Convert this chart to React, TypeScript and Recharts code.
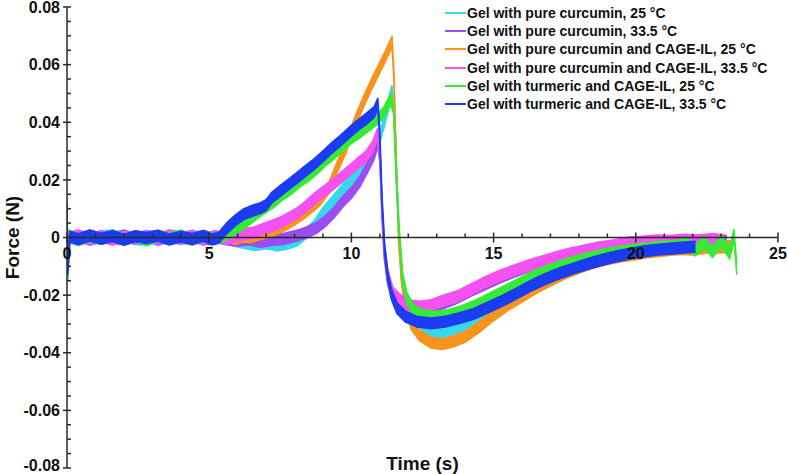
import React from 'react';
import { ComposedChart, Area, XAxis, YAxis, ReferenceLine, ReferenceDot, Legend } from 'recharts';

type Pt = [number, number];

const seriesNames = [
  'Gel with pure curcumin, 25 °C',
  'Gel with pure curcumin, 33.5 °C',
  'Gel with pure curcumin and CAGE-IL, 25 °C',
  'Gel with pure curcumin and CAGE-IL, 33.5 °C',
  'Gel with turmeric and CAGE-IL, 25 °C',
  'Gel with turmeric and CAGE-IL, 33.5 °C',
];
const seriesColors = ['#36D9EC', '#9B4CF2', '#F7941D', '#F352F0', '#35EB35', '#1C3CF2'];

const curcumin25: Pt[] = [
  [0, 0.0006], [0.3, -0.0007], [0.7, 0.0004], [1.0, -0.0003], [1.4, 0.0007], [1.8, -0.0006], [2.2, 0.0002],
  [2.6, -0.0008], [3.0, 0.0005], [3.4, -0.0002], [3.8, 0.0006], [4.2, -0.0005], [4.6, 0.0003], [5.0, -0.0006],
  [5.4, 0.0002], [5.8, -0.001], [6.2, -0.0018], [6.6, -0.0026], [7.0, -0.002], [7.4, -0.0028], [7.8, -0.002],
  [8.1, -0.001], [8.4, 0.0015], [8.7, 0.004], [9.0, 0.0085], [9.3, 0.012], [9.6, 0.0155], [9.9, 0.019],
  [10.2, 0.022], [10.5, 0.026], [10.8, 0.031], [11.0, 0.035], [11.15, 0.04], [11.3, 0.046], [11.42, 0.051],
  [11.5, 0.046], [11.6, 0.02], [11.7, -0.005], [11.8, -0.016], [11.95, -0.024], [12.2, -0.029], [12.5, -0.032],
  [12.9, -0.033], [13.3, -0.033], [13.8, -0.031], [14.3, -0.029], [14.8, -0.026], [15.3, -0.023], [15.8, -0.02],
  [16.3, -0.017], [16.8, -0.0145], [17.3, -0.012], [17.8, -0.0105], [18.3, -0.0085], [18.8, -0.007], [19.3, -0.006],
  [19.8, -0.005], [20.3, -0.0045], [20.8, -0.004], [21.3, -0.0035], [21.8, -0.0035], [22.3, -0.003], [22.8, -0.0028],
  [23.3, -0.003],
];

const curcumin335: Pt[] = [
  [0, -0.0005], [0.4, 0.0006], [0.8, -0.0008], [1.2, 0.0003], [1.6, -0.0002], [2.0, 0.0007], [2.4, -0.0005],
  [2.8, 0.0004], [3.2, -0.0008], [3.6, 0.0003], [4.0, -0.0004], [4.4, 0.0006], [4.8, -0.0007], [5.2, 0.0002],
  [5.6, -0.0006], [6.0, -0.0011], [6.4, -0.0006], [6.8, -0.0016], [7.2, -0.0009], [7.6, -0.0005], [7.9, 0.0002],
  [8.2, 0.001], [8.5, 0.002], [8.8, 0.0035], [9.1, 0.0058], [9.4, 0.0088], [9.7, 0.0125], [10.0, 0.0155],
  [10.3, 0.0195], [10.6, 0.025], [10.8, 0.029], [10.93, 0.0335], [11.0, 0.028], [11.07, 0.01], [11.15, -0.005],
  [11.27, -0.014], [11.45, -0.02], [11.7, -0.023], [12.0, -0.0245], [12.4, -0.025], [12.8, -0.0245], [13.2, -0.023],
  [13.7, -0.021], [14.2, -0.0185], [14.7, -0.0163], [15.2, -0.014], [15.7, -0.012], [16.2, -0.0102], [16.7, -0.0087],
  [17.2, -0.0072], [17.7, -0.006], [18.2, -0.0048], [18.7, -0.0038], [19.2, -0.003], [19.7, -0.0022], [20.2, -0.0018],
  [20.7, -0.0013], [21.2, -0.0015], [21.7, -0.001], [22.2, -0.0012], [22.7, -0.0008], [23.2, -0.0012],
];

const cage25: Pt[] = [
  [0, 0.0004], [0.4, -0.0006], [0.8, 0.0008], [1.2, -0.0004], [1.6, 0.0002], [2.0, -0.0007], [2.4, 0.0005],
  [2.8, -0.0003], [3.2, 0.0007], [3.6, -0.0006], [4.0, 0.0003], [4.4, -0.0008], [4.8, 0.0005], [5.2, -0.0003],
  [5.6, 0.0005], [5.9, -0.0005], [6.2, 0.0003], [6.5, 0.0002], [6.8, 0.0012], [7.1, 0.002], [7.4, 0.003],
  [7.7, 0.0045], [8.0, 0.0062], [8.3, 0.0082], [8.6, 0.0105], [8.9, 0.013], [9.2, 0.017], [9.5, 0.0245],
  [9.8, 0.031], [10.1, 0.0395], [10.4, 0.0465], [10.7, 0.053], [10.95, 0.058], [11.2, 0.063], [11.43, 0.068],
  [11.5, 0.055], [11.58, 0.025], [11.66, 0.0], [11.76, -0.014], [11.9, -0.023], [12.1, -0.03], [12.4, -0.034],
  [12.8, -0.0365], [13.2, -0.037], [13.6, -0.036], [14.0, -0.0345], [14.5, -0.031], [15.0, -0.027], [15.5, -0.0235],
  [16.0, -0.0205], [16.5, -0.0175], [17.0, -0.015], [17.5, -0.0125], [18.0, -0.0105], [18.5, -0.0088], [19.0, -0.0075],
  [19.5, -0.0065], [20.0, -0.0058], [20.5, -0.005], [21.0, -0.0045], [21.5, -0.004], [22.0, -0.0042], [22.5, -0.0035],
  [23.0, -0.0035], [23.4, -0.003],
];

const cage335: Pt[] = [
  [0, -0.0003], [0.4, 0.0007], [0.8, -0.0005], [1.2, 0.0005], [1.6, -0.0008], [2.0, 0.0003], [2.4, -0.0004],
  [2.8, 0.0006], [3.2, -0.0006], [3.6, 0.0008], [4.0, -0.0002], [4.4, 0.0004], [4.8, -0.0007], [5.2, 0.0005],
  [5.6, -0.0004], [6.0, 0.0005], [6.3, 0.0012], [6.6, 0.0018], [6.9, 0.003], [7.2, 0.004], [7.5, 0.0052],
  [7.8, 0.0068], [8.1, 0.0085], [8.4, 0.0108], [8.7, 0.0135], [9.0, 0.0158], [9.3, 0.018], [9.6, 0.0205],
  [9.9, 0.023], [10.2, 0.0255], [10.5, 0.028], [10.75, 0.0315], [10.92, 0.036], [11.0, 0.03], [11.08, 0.01],
  [11.16, -0.004], [11.28, -0.013], [11.45, -0.019], [11.7, -0.0215], [12.0, -0.0235], [12.4, -0.024], [12.8, -0.0235],
  [13.2, -0.022], [13.7, -0.0205], [14.2, -0.018], [14.7, -0.0155], [15.2, -0.0133], [15.7, -0.0115], [16.2, -0.0098],
  [16.7, -0.0083], [17.2, -0.0068], [17.7, -0.0055], [18.2, -0.0045], [18.7, -0.0035], [19.2, -0.0028], [19.7, -0.0018],
  [20.2, -0.0015], [20.7, -0.001], [21.2, -0.0012], [21.7, -0.0008], [22.2, -0.001], [22.7, -0.0005], [23.1, -0.001],
];

const turmeric25: Pt[] = [
  [0, 0.012], [0.03, -0.013], [0.1, 0.0006], [0.4, -0.0009], [0.8, 0.0004], [1.2, -0.0005], [1.6, 0.0008],
  [2.0, -0.0007], [2.4, 0.0003], [2.8, -0.001], [3.2, 0.0005], [3.6, -0.0004], [4.0, 0.0007], [4.4, -0.0006],
  [4.8, 0.0004], [5.2, -0.0005], [5.5, 0.0004], [5.8, 0.0025], [6.1, 0.004], [6.4, 0.0062], [6.7, 0.0085],
  [7.0, 0.0105], [7.3, 0.0125], [7.6, 0.015], [7.9, 0.017], [8.2, 0.0195], [8.5, 0.0215], [8.8, 0.024],
  [9.1, 0.0268], [9.4, 0.0292], [9.7, 0.032], [10.0, 0.0345], [10.3, 0.0365], [10.6, 0.0388], [10.9, 0.041],
  [11.15, 0.0435], [11.38, 0.048], [11.48, 0.045], [11.58, 0.02], [11.68, 0.002], [11.8, -0.014], [11.95, -0.021],
  [12.2, -0.0255], [12.5, -0.027], [12.9, -0.0275], [13.4, -0.027], [13.9, -0.0255], [14.4, -0.0235], [14.9, -0.021],
  [15.4, -0.0185], [15.9, -0.016], [16.4, -0.0135], [16.9, -0.0115], [17.4, -0.0098], [17.9, -0.0082], [18.4, -0.007],
  [18.9, -0.0058], [19.4, -0.005], [19.9, -0.0042], [20.4, -0.0038], [20.9, -0.0032], [21.4, -0.003], [21.8, -0.002],
  [22.1, -0.0045], [22.4, -0.0018], [22.7, -0.005], [23.0, -0.0012], [23.3, -0.0055], [23.45, 0.001], [23.55, -0.011],
];

const turmeric335: Pt[] = [
  [0, 0.01], [0.03, -0.011], [0.1, 0.0003], [0.4, -0.0006], [0.8, 0.0007], [1.2, -0.0004], [1.6, 0.0005],
  [2.0, -0.0008], [2.4, 0.0004], [2.8, -0.0002], [3.2, 0.0006], [3.6, -0.0007], [4.0, 0.0003], [4.4, -0.0005],
  [4.8, 0.0006], [5.1, -0.0007], [5.35, 0.0], [5.6, 0.003], [5.9, 0.0058], [6.2, 0.008], [6.5, 0.0092],
  [6.8, 0.0102], [7.0, 0.0112], [7.2, 0.0138], [7.5, 0.0162], [7.8, 0.0185], [8.1, 0.0208], [8.4, 0.0232],
  [8.7, 0.0255], [9.0, 0.0282], [9.3, 0.031], [9.6, 0.0335], [9.9, 0.0362], [10.2, 0.0388], [10.5, 0.041],
  [10.8, 0.0435], [10.93, 0.0465], [11.0, 0.035], [11.08, 0.012], [11.17, -0.004], [11.27, -0.013], [11.4, -0.0195],
  [11.6, -0.0245], [11.9, -0.0275], [12.3, -0.0292], [12.8, -0.0298], [13.3, -0.0292], [13.8, -0.028], [14.3, -0.0265],
  [14.8, -0.0243], [15.3, -0.022], [15.8, -0.0195], [16.3, -0.0168], [16.8, -0.0145], [17.3, -0.0125], [17.8, -0.0108],
  [18.3, -0.0092], [18.8, -0.0078], [19.3, -0.0066], [19.8, -0.0056], [20.3, -0.0048], [20.8, -0.0042], [21.3, -0.0038],
  [21.7, -0.0035], [22.1, -0.0032],
];

const allSeries: Pt[][] = [curcumin25, curcumin335, cage25, cage335, turmeric25, turmeric335];

const yTicks = [-0.08, -0.06, -0.04, -0.02, 0, 0.02, 0.04, 0.06, 0.08];
const yMinorTicks = [
  -0.08, -0.075, -0.07, -0.065, -0.06, -0.055, -0.05, -0.045, -0.04, -0.035, -0.03, -0.025, -0.02, -0.015, -0.01, -0.005,
  0, 0.005, 0.01, 0.015, 0.02, 0.025, 0.03, 0.035, 0.04, 0.045, 0.05, 0.055, 0.06, 0.065, 0.07, 0.075, 0.08,
];
const xMajorTicks = [0, 5, 10, 15, 20, 25];
const xMinorTicks = [1, 2, 3, 4, 6, 7, 8, 9, 11, 12, 13, 14, 16, 17, 18, 19, 21, 22, 23, 24];

// visual half-thickness of the noisy trace (style, in force units)
const NOISE_HALF = 0.0019;

const FONT = '"Liberation Sans", Arial, Helvetica, sans-serif';
const AXIS = '#2a2a2a';
const TICK_STYLE = { fontFamily: FONT, fontWeight: 700, fontSize: 16, fill: '#111' };

const LegendBox = () => (
  <div style={{ fontFamily: FONT, fontWeight: 700, fontSize: 14, color: '#111' }}>
    {seriesNames.map((n, i) => (
      <div key={n} style={{ height: 18.2, display: 'flex', alignItems: 'center', whiteSpace: 'nowrap' }}>
        <span style={{ display: 'inline-block', width: 21, height: 2, background: seriesColors[i], marginRight: 1 }} />
        <span>{n}</span>
      </div>
    ))}
  </div>
);

const YTick = (p: any) => {
  const v = p.payload.value as number;
  const label = v === 0 ? '0' : v.toFixed(2);
  const shift = v === -0.08 ? -3 : 0;
  return (
    <text x={p.x} y={p.y + shift} dy="0.355em" textAnchor="end" style={TICK_STYLE}>
      {label}
    </text>
  );
};

export default function App() {
  return (
    <div style={{ position: 'absolute', left: 0, top: 0, background: '#fff' }}>
      <ComposedChart width={787} height={474} margin={{ top: 7, right: 9, bottom: 6, left: 0 }}>
        <XAxis type="number" dataKey="t" domain={[0, 25]} hide allowDataOverflow />
        <YAxis
          type="number"
          domain={[-0.08, 0.08]}
          ticks={yTicks}
          width={67}
          allowDataOverflow
          interval={0}
          tick={<YTick />}
          tickSize={4}
          tickMargin={3}
          tickLine={{ stroke: AXIS, strokeWidth: 1.5 }}
          axisLine={{ stroke: AXIS, strokeWidth: 1.5 }}
          label={{
            value: 'Force (N)',
            angle: -90,
            position: 'center',
            dx: -21,
            style: { fontFamily: FONT, fontWeight: 700, fontSize: 19, fill: '#111' },
          }}
        />
        <ReferenceLine y={0} stroke={AXIS} strokeWidth={1.5} />
        {yMinorTicks.map((v) => (
          <ReferenceDot
            key={'ym' + v}
            x={0}
            y={v}
            r={0}
            shape={(p: any) => <line x1={p.cx} x2={p.cx + 4} y1={p.cy} y2={p.cy} stroke={AXIS} strokeWidth={1.5} />}
          />
        ))}
        {xMinorTicks.map((t) => (
          <ReferenceDot
            key={'xm' + t}
            x={t}
            y={0}
            r={0}
            shape={(p: any) => <line x1={p.cx} x2={p.cx} y1={p.cy - 4} y2={p.cy} stroke={AXIS} strokeWidth={1.5} />}
          />
        ))}
        {allSeries.map((s, i) => (
          <Area
            key={seriesNames[i]}
            data={s.map(([t, f]) => ({ t, band: [f - NOISE_HALF, f + NOISE_HALF] }))}
            dataKey="band"
            name={seriesNames[i]}
            stroke={seriesColors[i]}
            strokeWidth={1.5}
            fill={seriesColors[i]}
            fillOpacity={1}
            dot={false}
            activeDot={false}
            type="linear"
            isAnimationActive={false}
          />
        ))}
        {xMajorTicks.map((t) => (
          <ReferenceDot
            key={'xM' + t}
            x={t}
            y={0}
            r={0}
            shape={(p: any) => (
              <g>
                <line x1={p.cx} x2={p.cx} y1={p.cy - 5} y2={p.cy + 5} stroke={AXIS} strokeWidth={1.5} />
                <text x={p.cx} y={p.cy + 21} textAnchor="middle" style={TICK_STYLE}>
                  {String(t)}
                </text>
              </g>
            )}
          />
        ))}
        <ReferenceDot
          x={12.5}
          y={-0.08}
          r={0}
          shape={(p: any) => (
            <text
              x={p.cx}
              y={p.cy + 2}
              textAnchor="middle"
              style={{ fontFamily: FONT, fontWeight: 700, fontSize: 19, fill: '#111' }}
            >
              Time (s)
            </text>
          )}
        />
        <Legend
          layout="vertical"
          align="center"
          verticalAlign="middle"
          wrapperStyle={{ position: 'absolute', left: 445, top: 4, width: 340, height: 112 }}
          content={() => <LegendBox />}
        />
      </ComposedChart>
    </div>
  );
}
